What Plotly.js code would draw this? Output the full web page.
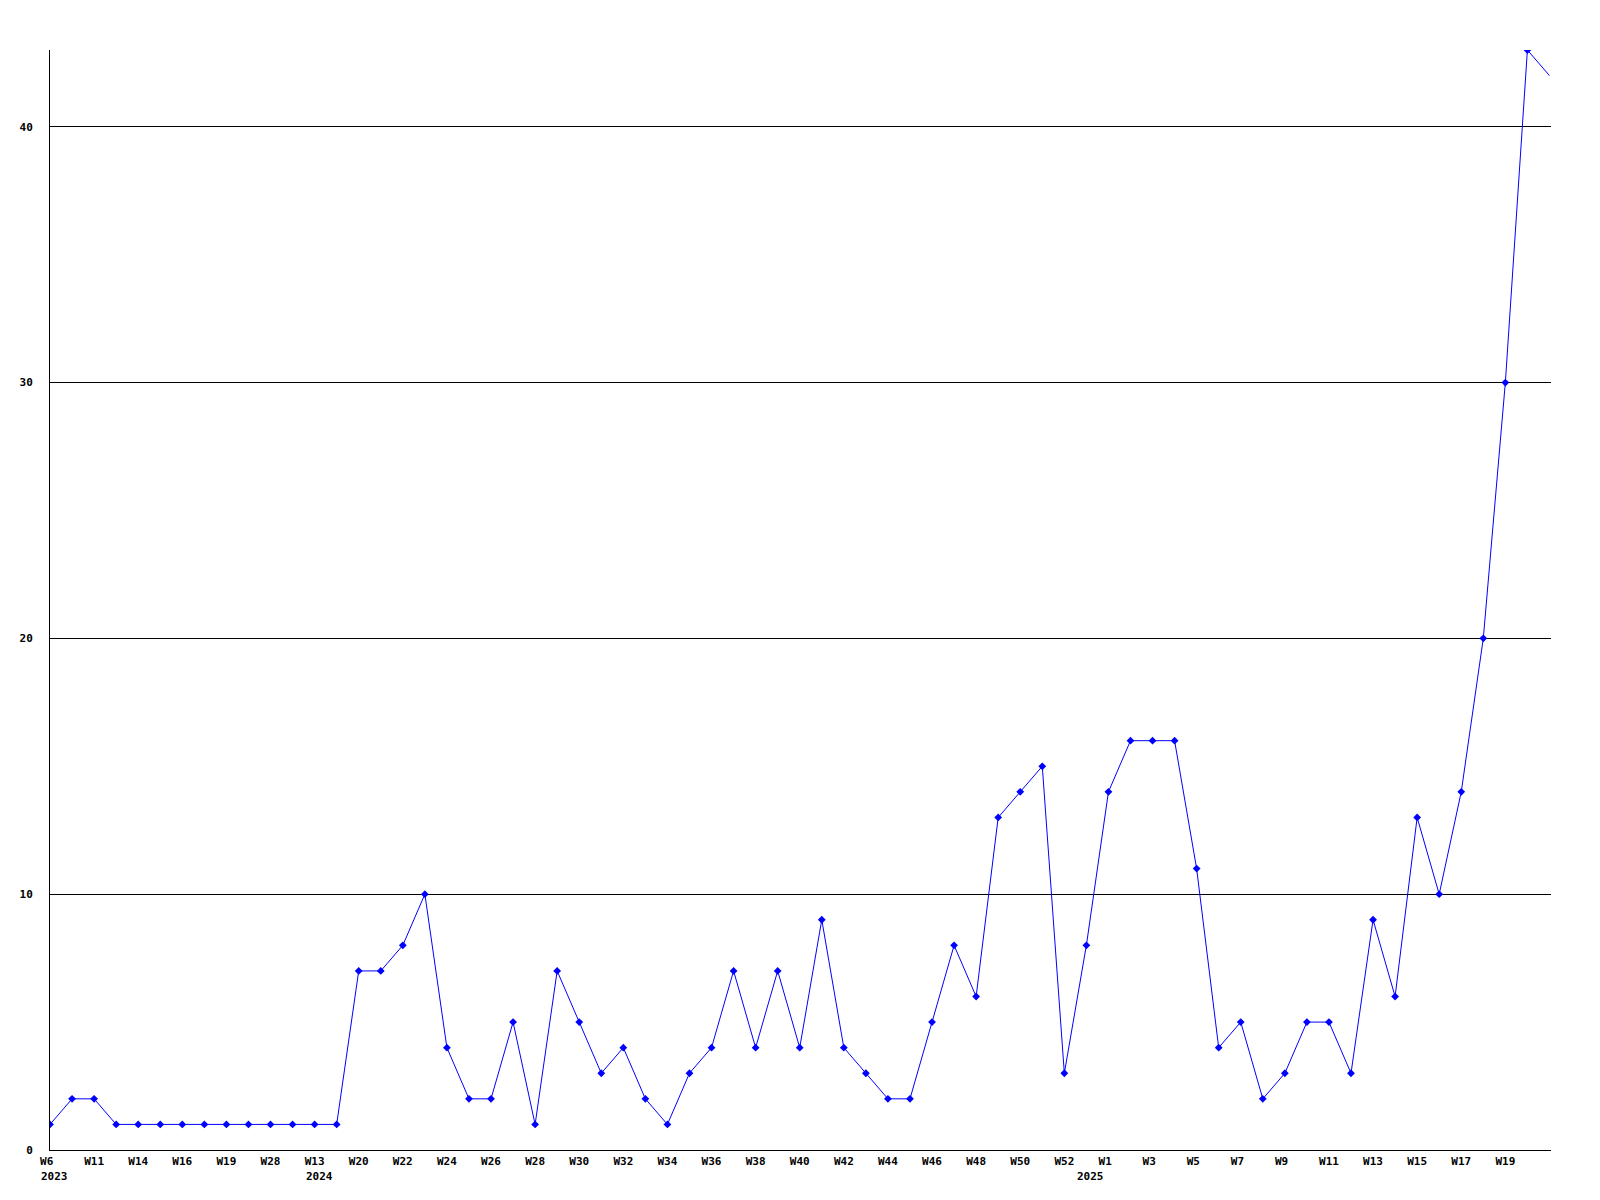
<!DOCTYPE html>
<html>
<head>
<meta charset="utf-8">
<script src="https://cdn.plot.ly/plotly-3.0.1.min.js"></script>
<style>html,body{margin:0;padding:0;background:#fff;}#chart{width:1600px;height:1200px;}</style>
</head>
<body>
<div id="chart"></div>
<script>
// Weekly categories (x axis)
const weeks = [
  "2023-W6","2023-W9","2023-W11","2023-W13","2023-W14","2023-W15","2023-W16","2023-W17",
  "2023-W19","2023-W20","2023-W28","2023-W30","2024-W13","2024-W16",
  "2024-W20","2024-W21","2024-W22","2024-W23","2024-W24","2024-W25","2024-W26","2024-W27",
  "2024-W28","2024-W29","2024-W30","2024-W31","2024-W32","2024-W33","2024-W34","2024-W35",
  "2024-W36","2024-W37","2024-W38","2024-W39","2024-W40","2024-W41","2024-W42","2024-W43",
  "2024-W44","2024-W45","2024-W46","2024-W47","2024-W48","2024-W49","2024-W50","2024-W51",
  "2024-W52","2025-W0",
  "2025-W1","2025-W2","2025-W3","2025-W4","2025-W5","2025-W6","2025-W7","2025-W8",
  "2025-W9","2025-W10","2025-W11","2025-W12","2025-W13","2025-W14","2025-W15","2025-W16",
  "2025-W17","2025-W18","2025-W19","2025-W20","2025-W21"
];
// Series values
const counts = [
  1,2,2,1,1,1,1,1,1,1,1,1,1,1,
  7,7,8,10,4,2,2,5,1,7,5,3,4,2,1,3,4,7,4,7,4,9,4,3,2,2,5,8,6,13,14,15,3,
  8,14,16,16,16,11,4,5,2,3,5,5,3,9,6,13,10,14,20,30,43,42
];
// Labelled ticks
const tickWeeks = [
  "2023-W6","2023-W11","2023-W14","2023-W16","2023-W19","2023-W28","2024-W13","2024-W20",
  "2024-W22","2024-W24","2024-W26","2024-W28","2024-W30","2024-W32","2024-W34","2024-W36",
  "2024-W38","2024-W40","2024-W42","2024-W44","2024-W46","2024-W48","2024-W50","2024-W52",
  "2025-W1","2025-W3","2025-W5","2025-W7","2025-W9","2025-W11","2025-W13","2025-W15",
  "2025-W17","2025-W19"
];
const tickLabels = [
  "W6","W11","W14","W16","W19","W28","W13","W20","W22","W24","W26","W28","W30","W32",
  "W34","W36","W38","W40","W42","W44","W46","W48","W50","W52","W1","W3","W5","W7","W9",
  "W11","W13","W15","W17","W19"
];
// Year labels under the first week of each year
const yearWeeks = ["2023-W6","2024-W13","2025-W0"];
const yearLabels = ["2023","2024","2025"];

const NB = "\u00a0";
const pad3 = s => s.length < 3 ? s + NB.repeat(3 - s.length) : s;

const fontFam = "DejaVu Sans Mono, Liberation Mono, monospace";
const tickFont = {family: fontFam, size: 11, color: "#000", weight: "bold"};

const traces = [
  {
    x: weeks, y: counts, type: "scatter", mode: "lines",
    line: {color: "#0000ff", width: 1},
    hoverinfo: "skip", showlegend: false
  },
  {
    x: weeks.slice(0, -1), y: counts.slice(0, -1), type: "scatter", mode: "markers",
    marker: {color: "#0000ff", symbol: "diamond", size: 6},
    showlegend: false
  }
];

const annotations = yearWeeks.map((w, i) => ({
  x: w, xref: "x", y: 0, yref: "paper",
  text: yearLabels[i], showarrow: false,
  xanchor: "left", yanchor: "middle", xshift: -11, yshift: -26,
  font: tickFont
}));

const layout = {
  width: 1600, height: 1200,
  margin: {l: 50, r: 49, t: 50, b: 50, pad: 0},
  paper_bgcolor: "#fff", plot_bgcolor: "#fff",
  showlegend: false,
  xaxis: {
    type: "category",
    categoryorder: "array", categoryarray: weeks,
    range: [0, 68.07],
    tickmode: "array", tickvals: tickWeeks, ticktext: tickLabels.map(pad3),
    tickfont: tickFont, tickangle: 0,
    ticks: "", ticklabelstandoff: 1,
    showgrid: false, zeroline: false,
    showline: true, linecolor: "#000", linewidth: 1,
    fixedrange: true
  },
  yaxis: {
    range: [0, 43],
    tickmode: "linear", tick0: 0, dtick: 10,
    tickfont: tickFont,
    ticks: "", ticklabelstandoff: 14,
    showgrid: true, gridcolor: "#000", gridwidth: 1,
    zeroline: false,
    showline: true, linecolor: "#000", linewidth: 1,
    fixedrange: true
  },
  annotations: annotations
};

Plotly.newPlot("chart", traces, layout, {staticPlot: true, displayModeBar: false});
</script>
</body>
</html>
